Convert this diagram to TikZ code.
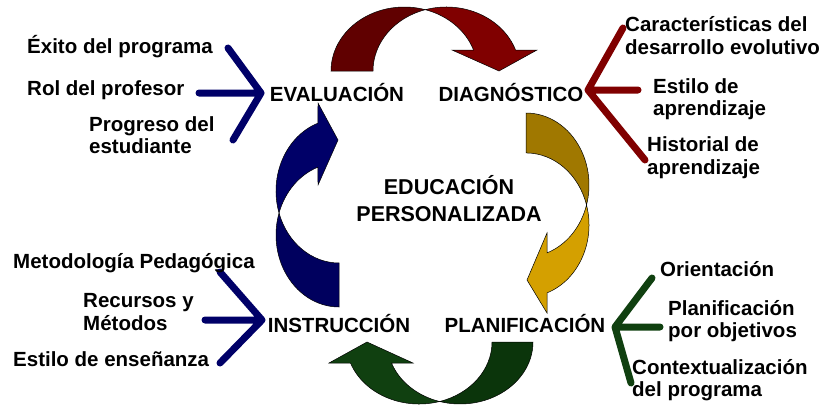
\documentclass[tikz,border=0pt]{standalone}
\usepackage{fontspec}
\setmainfont{Liberation Sans}
\usetikzlibrary{calc}
\definecolor{rojoA}{HTML}{600000}
\definecolor{rojoB}{HTML}{800000}
\definecolor{oroA}{HTML}{A07800}
\definecolor{oroB}{HTML}{D4A000}
\definecolor{azulA}{HTML}{00005E}
\definecolor{azulB}{HTML}{000068}
\definecolor{verdeA}{HTML}{0B350B}
\definecolor{verdeB}{HTML}{104010}

\begin{document}
\begin{tikzpicture}[x=1pt,y=-1pt,
    etiq/.style={font=\fontsize{20.5}{22.5}\selectfont\bfseries,inner sep=0},
    nota/.style={etiq,align=left},
    rama/.style={line width=7pt,line cap=round,line join=round},
    flecha/.style={draw=black,line width=.5pt}]
    \useasboundingbox (0,0) rectangle (824,410);
    % flecha roja: evaluacion -> diagnostico
    \def\rx{73.3} \def\ry{64}
    \coordinate (ra) at (404.3,71); \coordinate (rb) at (446.3,71);
    \filldraw[flecha,fill=rojoA] ($(ra)+(180:{\rx} and {\ry})$)
        arc[start angle=180,end angle=286.65,x radius=\rx,y radius=\ry]
        arc[start angle=253.35,end angle=180,x radius=\rx,y radius=\ry] -- cycle;
    \filldraw[flecha,fill=rojoB] ($(ra)+(286.65:{\rx} and {\ry})$)
        arc[start angle=253.35,end angle=340.85,x radius=\rx,y radius=\ry]
        -- (537,50) -- (499,71) -- (452,50) -- ($(ra)+(340.85:{\rx} and {\ry})$)
        arc[start angle=340.85,end angle=286.65,x radius=\rx,y radius=\ry] -- cycle;
    % flecha dorada: diagnostico -> planificacion
    \def\rx{63} \def\ry{72}
    \coordinate (oa) at (526,185); \coordinate (ob) at (526,225);
    \filldraw[flecha,fill=oroA] ($(oa)+(-90:{\rx} and {\ry})$)
        arc[start angle=-90,end angle=16.1,x radius=\rx,y radius=\ry]
        arc[start angle=-16.1,end angle=-90,x radius=\rx,y radius=\ry] -- cycle;
    \filldraw[flecha,fill=oroB] ($(ob)+(-16.1:{\rx} and {\ry})$)
        arc[start angle=-16.1,end angle=70.5,x radius=\rx,y radius=\ry]
        -- (547,313) -- (527,280) -- (547,233) -- ($(oa)+(70.5:{\rx} and {\ry})$)
        arc[start angle=70.5,end angle=16.1,x radius=\rx,y radius=\ry] -- cycle;
    % flecha verde: planificacion -> instruccion
    \def\rx{72.9} \def\ry{62}
    \coordinate (va) at (460.1,342); \coordinate (vb) at (419.1,342);
    \filldraw[flecha,fill=verdeA] ($(va)+(0:{\rx} and {\ry})$)
        arc[start angle=0,end angle=106.33,x radius=\rx,y radius=\ry]
        arc[start angle=73.67,end angle=0,x radius=\rx,y radius=\ry] -- cycle;
    \filldraw[flecha,fill=verdeB] ($(vb)+(73.67:{\rx} and {\ry})$)
        arc[start angle=73.67,end angle=160.2,x radius=\rx,y radius=\ry]
        -- (329,363) -- (367,342) -- (413,363) -- ($(va)+(160.2:{\rx} and {\ry})$)
        arc[start angle=160.2,end angle=106.33,x radius=\rx,y radius=\ry] -- cycle;
    % flecha azul: instruccion -> evaluacion
    \def\rx{63} \def\ry{72}
    \coordinate (aa) at (339,191); \coordinate (ab) at (339,235);
    \filldraw[flecha,fill=azulA] ($(ab)+(90:{\rx} and {\ry})$)
        arc[start angle=90,end angle=197.8,x radius=\rx,y radius=\ry]
        arc[start angle=162.2,end angle=90,x radius=\rx,y radius=\ry] -- cycle;
    \filldraw[flecha,fill=azulB] ($(aa)+(162.2:{\rx} and {\ry})$)
        arc[start angle=162.2,end angle=250.5,x radius=\rx,y radius=\ry]
        -- (318,103) -- (338,140) -- (318,185) -- ($(ab)+(250.5:{\rx} and {\ry})$)
        arc[start angle=250.5,end angle=197.8,x radius=\rx,y radius=\ry] -- cycle;
    % etapas
    \node[etiq,anchor=base] (eva) at (337,101) {EVALUACIÓN};
    \node[etiq,anchor=base] (diag) at (511,101) {DIAGNÓSTICO};
    \node[etiq,anchor=base] (inst) at (339,332.5) {INSTRUCCIÓN};
    \node[etiq,anchor=base] (plan) at (525,332.5) {PLANIFICACIÓN};
    \node[etiq,font=\fontsize{21.5}{27}\selectfont\bfseries,align=center] (edu) at (449,198.6) {EDUCACIÓN\\PERSONALIZADA};
    % ramas
    \coordinate (fe) at (261,93);
    \coordinate (e1) at (228,48); \coordinate (e2) at (199,93); \coordinate (e3) at (233,140);
    \coordinate (fd) at (588,90);
    \coordinate (d1) at (623,28); \coordinate (d2) at (638,90); \coordinate (d3) at (645,160);
    \coordinate (fi) at (262,320);
    \coordinate (i1) at (220,272); \coordinate (i2) at (205,320); \coordinate (i3) at (220,363);
    \coordinate (fp) at (615,327);
    \coordinate (p1) at (652,278); \coordinate (p2) at (660,327); \coordinate (p3) at (631,383);
    \foreach \f/\n/\col in {fe/e/azulB,fd/d/rojoB,fi/i/azulB,fp/p/verdeB}
        \draw[rama,\col] (\n1) -- (\f) -- (\n3) (\n2) -- (\f);
    % textos
    \node[etiq,anchor=base west] (exito) at (27,53.5) {Éxito del programa};
    \node[etiq,anchor=base west] (rol) at (27,95) {Rol del profesor};
    \node[nota,anchor=west] (progreso) at (89,135.4) {Progreso del\\estudiante};
    \node[nota,anchor=west] (caract) at (625,35.4) {Características del\\desarrollo evolutivo};
    \node[nota,anchor=west] (estilo) at (653,99.2) {Estilo de\\aprendizaje};
    \node[nota,anchor=west] (hist) at (647,157.9) {Historial de\\aprendizaje};
    \node[etiq,anchor=base west] (metod) at (13,268.5) {Metodología Pedagógica};
    \node[nota,anchor=west] (recursos) at (83,312) {Recursos y\\Métodos};
    \node[etiq,anchor=base west] (ensen) at (13,366.5) {Estilo de enseñanza};
    \node[etiq,anchor=base west] (orient) at (660,276.5) {Orientación};
    \node[nota,anchor=west] (planobj) at (668,320.9) {Planificación\\por objetivos};
    \node[nota,anchor=west] (context) at (632,380.2) {Contextualización\\del programa};
\end{tikzpicture}
\end{document}
